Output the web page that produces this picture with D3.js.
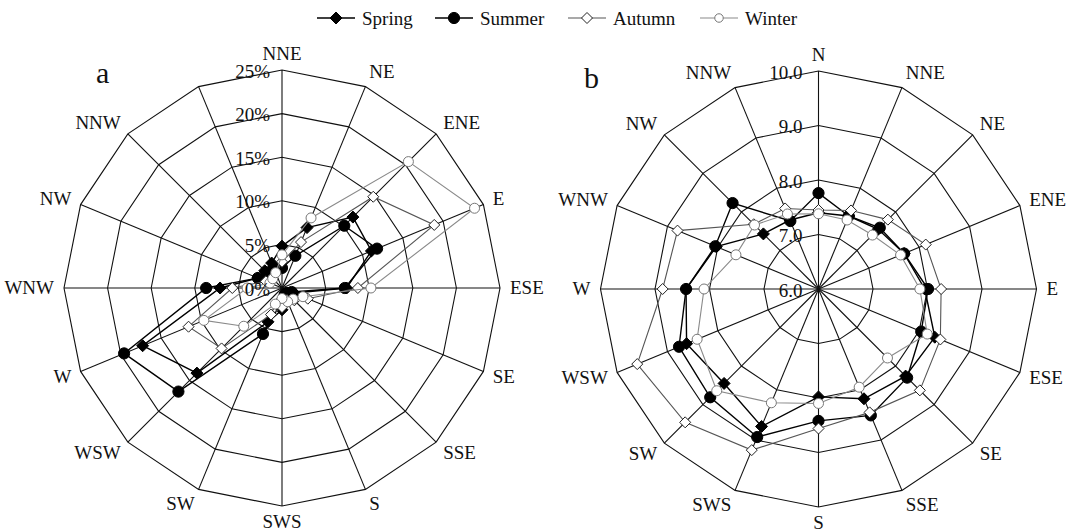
<!DOCTYPE html>
<html>
<head>
<meta charset="utf-8">
<script src="https://cdn.jsdelivr.net/npm/d3@7"></script>
<style>
  body { margin: 0; background: #fff; }
  svg text { font-family: "Liberation Serif", "Times New Roman", Times, "DejaVu Serif", serif; fill: #111; }
</style>
</head>
<body>
<svg id="chart" width="1067" height="532" font-family="Liberation Serif, DejaVu Serif, serif"></svg>
<script>
// ---- data ----
const seasons = ["Spring", "Summer", "Autumn", "Winter"];

// panel a: wind direction frequency (%)
const dirsA = ["NNE", "NE", "ENE", "E", "ESE", "SE", "SSE", "S", "SWS", "SW", "WSW", "W", "WNW", "NW", "NNW", ""];
const ticksA = [0, 5, 10, 15, 20, 25];
const freqSpring = [4.8, 7.5, 11.5, 11.1, 7.4, 1.5, 1.0, 1.2, 2.5, 4.2, 13.8, 17.3, 7.1, 3.0, 2.8, 3.1];
const freqSummer = [2.3, 4.0, 10.1, 11.8, 7.2, 1.2, 0.8, 0.8, 1.5, 5.7, 16.8, 19.6, 8.7, 3.0, 2.5, 2.5];
const freqAutumn = [3.0, 5.7, 14.8, 18.9, 8.7, 3.2, 2.0, 1.5, 2.2, 3.3, 9.8, 11.6, 5.7, 2.0, 1.5, 1.8];
const freqWinter = [3.8, 8.7, 20.5, 23.9, 10.2, 2.6, 1.8, 1.7, 1.2, 2.0, 6.2, 9.7, 4.0, 1.5, 1.5, 1.9];

// panel b: wind speed
const dirsB = ["N", "NNE", "NE", "ENE", "E", "ESE", "SE", "SSE", "S", "SWS", "SW", "WSW", "W", "WNW", "NW", "NNW"];
const ticksB = [6, 7, 8, 9, 10];
const speedSpring = [7.40, 7.45, 7.55, 7.70, 7.95, 8.31, 8.26, 8.18, 7.98, 8.73, 8.45, 8.62, 8.43, 8.03, 7.43, 7.37];
const speedSummer = [7.76, 7.45, 7.59, 7.70, 8.01, 8.04, 8.30, 8.51, 8.42, 8.94, 8.81, 8.77, 8.43, 8.05, 8.23, 7.35];
const speedAutumn = [7.45, 7.56, 7.80, 8.13, 8.25, 8.42, 8.63, 8.45, 8.56, 9.20, 9.46, 9.60, 8.86, 8.80, 7.68, 7.60];
const speedWinter = [7.38, 7.37, 7.40, 7.63, 7.86, 8.16, 7.79, 7.95, 8.10, 8.26, 8.64, 8.41, 8.10, 7.64, 7.66, 7.49];

// ---- styles ----
const style = {
  Spring: { line: "#000", lw: 1.4, shape: "diamond", fill: "#000", stroke: "#000", size: 6 },
  Summer: { line: "#000", lw: 1.4, shape: "circle", fill: "#000", stroke: "#000", size: 5.6 },
  Autumn: { line: "#555", lw: 1.1, shape: "diamond", fill: "#fff", stroke: "#222", size: 5.5 },
  Winter: { line: "#8a8a8a", lw: 1.1, shape: "circle", fill: "#fff", stroke: "#777", size: 5 }
};
const legendX = [317, 435, 568, 700];

const svg = d3.select("#chart");
const R = 218;
const FONT = '"Liberation Serif", "Times New Roman", Times, "DejaVu Serif", serif';

function addMarker(sel, s, x, y, scale = 1) {
  const st = style[s];
  const h = st.size * scale;
  if (st.shape === "diamond") {
    sel.append("path")
      .attr("d", `M${x},${y - h}L${x + h},${y}L${x},${y + h}L${x - h},${y}Z`)
      .attr("fill", st.fill).attr("stroke", st.stroke).attr("stroke-width", 1);
  } else {
    sel.append("circle")
      .attr("cx", x).attr("cy", y).attr("r", h)
      .attr("fill", st.fill).attr("stroke", st.stroke).attr("stroke-width", 1);
  }
}

function drawRadar({cx, cy, dirs, domain, ticks, fmt, series, tickDx, letter, letterPos}) {
  const g = svg.append("g").attr("transform", `translate(${cx},${cy})`);
  const n = dirs.length;
  const angle = i => i * 2 * Math.PI / n;
  const r = d3.scaleLinear().domain(domain).range([0, R]);

  const ring = d3.lineRadial()
    .angle((d, i) => angle(i))
    .radius(d => r(d))
    .curve(d3.curveLinearClosed);

  // rings
  g.selectAll(".ring")
    .data(ticks.slice(1))
    .join("path")
    .attr("class", "ring")
    .attr("d", t => ring(d3.range(n).map(() => t)))
    .attr("fill", "none").attr("stroke", "#111").attr("stroke-width", 1.1);

  // spokes
  g.selectAll(".spoke")
    .data(d3.range(n))
    .join("line")
    .attr("class", "spoke")
    .attr("x1", 0).attr("y1", 0)
    .attr("x2", i => R * Math.sin(angle(i)))
    .attr("y2", i => -R * Math.cos(angle(i)))
    .attr("stroke", "#111").attr("stroke-width", 1.1);

  // direction labels
  g.selectAll(".dir")
    .data(dirs)
    .join("text")
    .attr("class", "dir")
    .attr("font-family", FONT)
    .attr("font-size", 19)
    .attr("text-anchor", (d, i) => {
      const s = Math.sin(angle(i));
      return s > 0.1 ? "start" : s < -0.1 ? "end" : "middle";
    })
    .attr("x", (d, i) => 228 * Math.sin(angle(i)))
    .attr("y", (d, i) => {
      const c = Math.cos(angle(i));
      return -(230 + 4 * Math.abs(c)) * c + 6;
    })
    .text(d => d);

  // series
  const pts = vals => vals.map((v, i) => [r(v) * Math.sin(angle(i)), -r(v) * Math.cos(angle(i))]);
  series.forEach(({name, values}) => {
    const st = style[name];
    const p = pts(values);
    g.append("path")
      .attr("d", d3.line().curve(d3.curveLinearClosed)(p))
      .attr("fill", "none").attr("stroke", st.line).attr("stroke-width", st.lw);
    const mg = g.append("g");
    p.forEach(([x, y]) => addMarker(mg, name, x, y));
  });

  // tick labels
  g.selectAll(".tick")
    .data(ticks)
    .join("text")
    .attr("class", "tick")
    .attr("font-family", FONT)
    .attr("font-size", 19)
    .attr("text-anchor", "end")
    .attr("x", -tickDx)
    .attr("y", t => -r(t) + 7.5)
    .text(fmt);

  svg.append("text")
    .attr("x", letterPos[0]).attr("y", letterPos[1])
    .attr("font-family", FONT)
    .attr("font-size", 30)
    .text(letter);
}

drawRadar({
  cx: 282, cy: 288, dirs: dirsA, domain: [0, 25], ticks: ticksA,
  fmt: t => t + "%", tickDx: 12, letter: "a", letterPos: [96, 83],
  series: [
    {name: "Spring", values: freqSpring},
    {name: "Summer", values: freqSummer},
    {name: "Autumn", values: freqAutumn},
    {name: "Winter", values: freqWinter}
  ]
});

drawRadar({
  cx: 818.5, cy: 289, dirs: dirsB, domain: [6, 10], ticks: ticksB,
  fmt: d3.format(".1f"), tickDx: 16, letter: "b", letterPos: [584, 88],
  series: [
    {name: "Spring", values: speedSpring},
    {name: "Summer", values: speedSummer},
    {name: "Autumn", values: speedAutumn},
    {name: "Winter", values: speedWinter}
  ]
});

// legend
const legend = svg.append("g");
const ly = 18;
seasons.forEach((s, i) => {
  const st = style[s];
  const lx = legendX[i];
  legend.append("line")
    .attr("x1", lx).attr("x2", lx + 38).attr("y1", ly).attr("y2", ly)
    .attr("stroke", st.line).attr("stroke-width", st.lw);
  addMarker(legend, s, lx + 19, ly, s === "Winter" ? 0.85 : 1);
  legend.append("text")
    .attr("x", lx + 45).attr("y", ly + 6.5)
    .attr("font-family", FONT)
    .attr("font-size", 19)
    .text(s);
});
</script>
</body>
</html>
